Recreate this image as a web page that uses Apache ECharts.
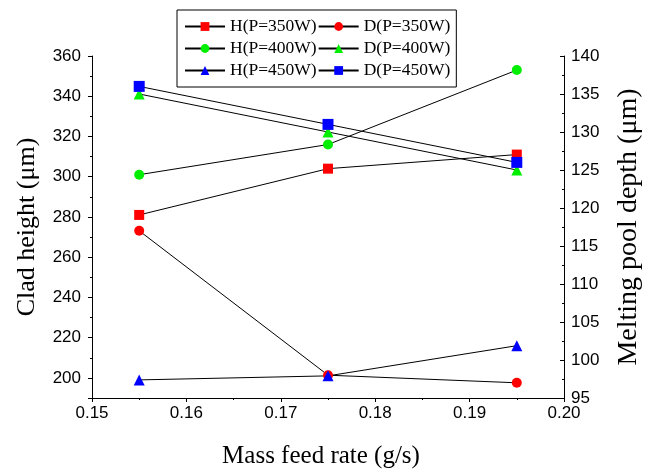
<!DOCTYPE html>
<html>
<head>
<meta charset="utf-8">
<script src="https://cdn.jsdelivr.net/npm/echarts@6/dist/echarts.min.js"></script>
<style>html,body{margin:0;padding:0;background:#fff}#c{width:653px;height:474px}</style>
</head>
<body>
<div id="c"></div>
<script>
// Data
var massFeed = [0.155, 0.175, 0.195];
var hP350 = [281, 304, 311];
var dP350 = [117, 98, 97];
var hP400 = [301, 316, 353];
var dP400 = [135, 130, 125];
var hP450 = [199, 201, 216];
var dP450 = [136, 131, 126];
var seriesNames = ['H(P=350W)', 'D(P=350W)', 'H(P=400W)', 'D(P=400W)', 'H(P=450W)', 'D(P=450W)'];
var xTicks = ['0.15', '0.16', '0.17', '0.18', '0.19', '0.20'];

function pairs(vals) { return massFeed.map(function (x, i) { return [x, vals[i]]; }); }

var serif = "'Liberation Serif', 'Times New Roman', serif";
var sans = "'Liberation Sans', Arial, sans-serif";

function mk(name, vals, axis, symbol, color, size) {
  return {
    name: name, type: 'line', yAxisIndex: axis, data: pairs(vals),
    symbol: symbol, symbolSize: size,
    itemStyle: { color: color },
    lineStyle: { color: '#000', width: 1 },
    emphasis: { disabled: true }, animation: false
  };
}

var chart = echarts.init(document.getElementById('c'));
chart.setOption({
  animation: false,
  grid: { left: 92, right: 89, top: 56, bottom: 71 },
  legend: {
    data: seriesNames,
    left: 177, top: 10, width: 290,
    orient: 'horizontal',
    itemWidth: 40, itemHeight: 11, itemGap: 1,
    padding: [6, 6, 6, 7],
    borderColor: '#000', borderWidth: 1,
    textStyle: { fontFamily: serif, fontSize: 17.5, color: '#000', lineHeight: 21 },
    selectedMode: false
  },
  xAxis: {
    type: 'value', min: 0.15, max: 0.2, interval: 0.01,
    name: 'Mass feed rate (g/s)', nameLocation: 'middle', nameGap: 46,
    nameTextStyle: { fontFamily: serif, fontSize: 25, color: '#000', padding: [0, 14, 0, 0] },
    axisLine: { show: true, onZero: false, lineStyle: { color: '#000', width: 1 } },
    axisTick: { show: true, length: 4, inside: false, lineStyle: { color: '#000' } },
    minorTick: { show: true, splitNumber: 2, length: 2, lineStyle: { color: '#000' } },
    splitLine: { show: false },
    axisLabel: { fontFamily: sans, fontSize: 17, color: '#000', margin: 7,
      formatter: function (v) { var s = v.toFixed(2); return xTicks.indexOf(s) >= 0 ? s : ''; } }
  },
  yAxis: [
    {
      type: 'value', position: 'left', min: 190, max: 360, splitNumber: 8,
      name: 'Clad height (\u03bcm)', nameLocation: 'middle', nameGap: 52, nameRotate: 90,
      nameTextStyle: { fontFamily: serif, fontSize: 26, color: '#000' },
      axisLine: { show: true, lineStyle: { color: '#000', width: 1 } },
      axisTick: { show: true, length: 4, inside: false, lineStyle: { color: '#000' } },
      minorTick: { show: true, splitNumber: 2, length: 2, lineStyle: { color: '#000' } },
      splitLine: { show: false },
      axisLabel: { fontFamily: sans, fontSize: 17, color: '#000', margin: 11, showMinLabel: false }
    },
    {
      type: 'value', position: 'right', min: 95, max: 140, interval: 5,
      name: 'Melting pool depth (\u03bcm)', nameLocation: 'middle', nameGap: 51, nameRotate: 90,
      nameTextStyle: { fontFamily: serif, fontSize: 28, color: '#000' },
      axisLine: { show: true, lineStyle: { color: '#000', width: 1 } },
      axisTick: { show: true, length: 4, inside: true, lineStyle: { color: '#000' } },
      minorTick: { show: true, splitNumber: 2, length: 2, lineStyle: { color: '#000' } },
      splitLine: { show: false },
      axisLabel: { fontFamily: sans, fontSize: 17, color: '#000', margin: 7 }
    }
  ],
  series: [
    mk(seriesNames[0], hP350, 0, 'rect', '#ff0000', 10),
    mk(seriesNames[1], dP350, 1, 'circle', '#ff0000', 10),
    mk(seriesNames[2], hP400, 0, 'circle', '#00ee00', 10),
    mk(seriesNames[3], dP400, 1, 'triangle', '#00ee00', 11),
    mk(seriesNames[4], hP450, 0, 'triangle', '#0000ff', 11),
    mk(seriesNames[5], dP450, 1, 'rect', '#0000ff', 11)
  ]
});
</script>
</body>
</html>
